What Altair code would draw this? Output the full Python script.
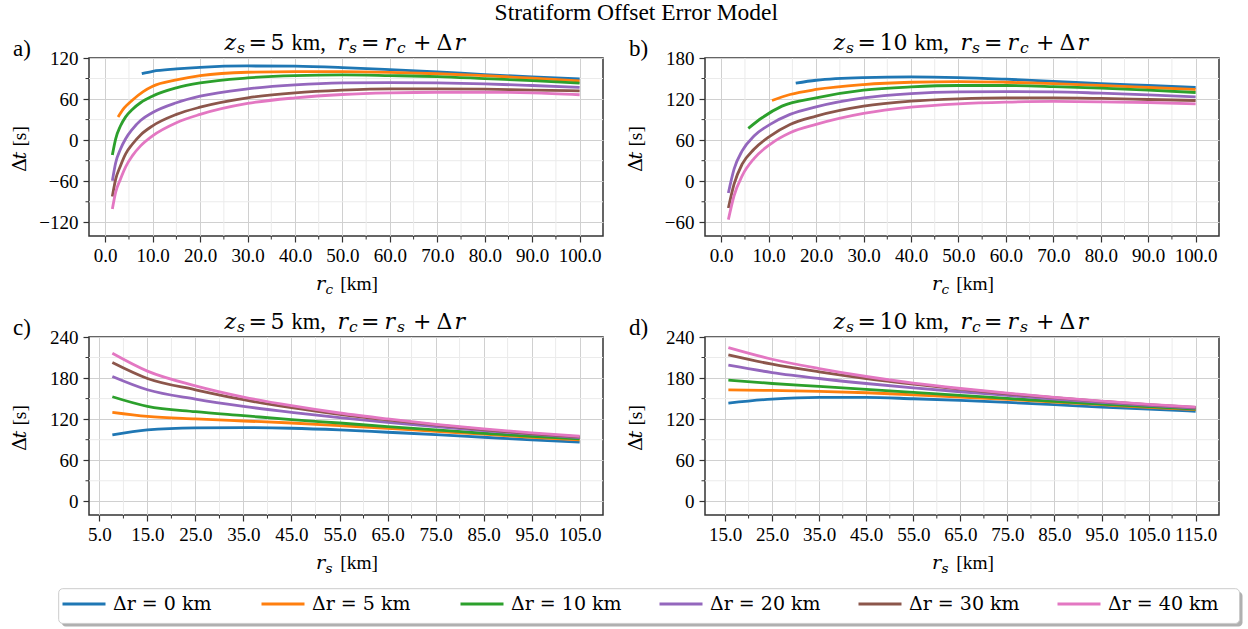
import altair as alt
import pandas as pd

FONT = "Liberation Serif"
MATH = "DejaVu Serif"
COLORS = ["#1f77b4", "#ff7f0e", "#2ca02c", "#9467bd", "#8c564b", "#e377c2"]
SERIES = ["\u0394r = 0 km", "\u0394r = 5 km", "\u0394r = 10 km",
          "\u0394r = 20 km", "\u0394r = 30 km", "\u0394r = 40 km"]

# ---------------- panel a : z_s = 5 km, r_s = r_c + dr  (x = r_c)
a_x_0 = [7.7, 10, 15, 20, 30, 40, 50, 60, 70, 80, 90, 100]
a_y_0 = [97.2, 100.6, 104, 106.4, 108.4, 108, 106, 103, 99.6, 95.8, 92.4, 89.5]
a_x_5 = [2.7, 4, 5.7, 8, 10, 15, 20, 30, 40, 50, 60, 70, 80, 90, 100]
a_y_5 = [33.7, 47, 58.4, 71, 78.8, 88, 94.3, 99.2, 100, 100, 99, 97, 94.3, 90.4, 86.6]
a_x_n = [1.5, 2.2, 3.2, 4.3, 5.7, 7.5, 9.9, 15, 20, 30, 40, 50, 60, 70, 80, 90, 100]
a_y_10 = [-21.6, 2, 20.6, 34, 44.9, 55, 64.2, 76.4, 83.6, 90.9, 94.3, 95.3, 94.3, 92.9, 90, 87, 83.2]
a_y_20 = [-59.4, -33, -13.3, 2, 15.8, 29, 40, 54.6, 64.2, 74.9, 80.7, 83.6, 84.1, 83.6, 82.2, 79.8, 77]
a_y_30 = [-82.2, -57, -37.6, -20, -6, 8, 20.6, 37.6, 48.2, 61.8, 69.1, 73, 74.9, 74.9, 74.4, 73, 72.1]
a_y_40 = [-100.6, -76, -57, -39, -23, -8, 6, 25.5, 37.6, 53.6, 61.8, 66.7, 69.1, 70, 70, 69.1, 66.3]

# ---------------- panel b : z_s = 10 km, r_s = r_c + dr  (x = r_c)
b_x_0 = [15.7, 20, 30, 40, 50, 60, 70, 80, 90, 100]
b_y_0 = [143.2, 147.5, 151.4, 152.4, 151.4, 149, 146, 142.7, 139.8, 136.9]
b_x_5 = [10.7, 14.5, 20, 30, 40, 50, 60, 70, 80, 90, 100]
b_y_5 = [118, 126.7, 134, 141.2, 144.6, 145.6, 144.6, 142.7, 139.8, 136.9, 134]
b_x_10 = [5.7, 8.6, 12.8, 20, 30, 40, 50, 60, 70, 80, 90, 100]
b_y_10 = [77.2, 92.7, 109.7, 121.8, 133, 137.8, 139.8, 139.8, 138.3, 135.9, 133, 129.6]
b_x_n = [1.5, 2.7, 4.4, 6.9, 10.3, 14.5, 20, 30, 40, 50, 60, 70, 80, 90, 100]
b_y_20 = [-17.3, 17.6, 44.3, 66, 83, 97.6, 108.7, 121.8, 128.1, 130.6, 131, 130.6, 128.6, 126.2, 123.3]
b_y_30 = [-39.1, -4.2, 24.9, 46.7, 66, 83, 95.2, 109.7, 117, 120.4, 121.8, 121.8, 120.9, 119.4, 117.9]
b_y_40 = [-56.1, -21.2, 7.9, 33.1, 54, 70.9, 83, 99, 108.2, 113.1, 115.5, 116.5, 116, 115, 113.1]

# ---------------- panel c : z_s = 5 km, r_c = r_s + dr  (x = r_s)
c_x = [7.7, 15, 25, 35, 45, 55, 65, 75, 85, 95, 105]
c_y_0 = [97, 104.3, 107.2, 107.6, 106.7, 104.3, 100.9, 97.5, 93.6, 89.7, 86.3]
c_y_5 = [130, 124.1, 120.3, 117.3, 114.4, 110.6, 106.7, 102.3, 98, 93.6, 89.7]
c_y_10 = [152.7, 138.7, 130.9, 125.1, 119.3, 114.4, 109.1, 104.3, 99.4, 95, 91.2]
c_y_20 = [182.3, 162.9, 149.3, 138.7, 130, 122.2, 115.4, 109.1, 103.3, 98, 93.1]
c_y_30 = [202.7, 179.4, 162.9, 148.4, 136.7, 127, 118.8, 111.5, 104.7, 98.9, 94.1]
c_y_40 = [216.2, 190.1, 168.7, 152.3, 139.6, 129, 120.3, 112.5, 105.7, 99.9, 95]

# ---------------- panel d : z_s = 10 km, r_c = r_s + dr  (x = r_s)
d_x = [15.7, 25, 35, 45, 55, 65, 75, 85, 95, 105, 115]
d_y_0 = [143.5, 149.3, 151.8, 151.8, 149.8, 147.4, 144.5, 141.1, 137.7, 134.8, 131.4]
d_y_5 = [162.9, 161.9, 160.5, 158.6, 155.6, 152.3, 148.9, 145, 141.1, 137.2, 133.8]
d_y_10 = [177, 172.1, 167.8, 163.4, 159, 154.7, 150.3, 146, 142.1, 138.2, 134.8]
d_y_20 = [198.8, 188.1, 179.4, 172.1, 165.8, 160, 154.7, 149.3, 144.5, 140.1, 136.3]
d_y_30 = [213.8, 200.2, 189.1, 179.4, 171.2, 163.9, 157.1, 151.3, 146, 141.1, 137.2]
d_y_40 = [224.5, 207.5, 193.9, 182.3, 172.6, 164.8, 158, 151.8, 146.4, 141.6, 137.7]

# axis ticks
ab_x_major = [0, 10, 20, 30, 40, 50, 60, 70, 80, 90, 100]
ab_x_minor = [5, 15, 25, 35, 45, 55, 65, 75, 85, 95]
c_x_major = [5, 15, 25, 35, 45, 55, 65, 75, 85, 95, 105]
c_x_minor = [10, 20, 30, 40, 50, 60, 70, 80, 90, 100]
d_x_major = [15, 25, 35, 45, 55, 65, 75, 85, 95, 105, 115]
d_x_minor = [20, 30, 40, 50, 60, 70, 80, 90, 100, 110]
a_y_major = [-120, -60, 0, 60, 120]
a_y_minor = [-90, -30, 30, 90]
b_y_major = [-60, 0, 60, 120, 180]
b_y_minor = [-30, 30, 90, 150]
cd_y_major = [0, 60, 120, 180, 240]
cd_y_minor = [30, 90, 150, 210]

W, H = 514, 178
ONE = pd.DataFrame({"k": [0]})
MAJOR_GRID = "#d0d0d0"
MINOR_GRID = "#ebebeb"
TICK = "#333333"


def frame(xs_list, ys_list):
    rows = []
    for name, xs, ys in zip(SERIES, xs_list, ys_list):
        for x, y in zip(xs, ys):
            rows.append({"x": x, "y": y, "s": name})
    return pd.DataFrame(rows)


def txt(s, x, y, size, italic=False, angle=None, align="left", baseline="alphabetic", font=FONT):
    kw = dict(text=s, font=font, fontSize=size, align=align, baseline=baseline, color="black")
    if italic:
        kw["fontStyle"] = "italic"
    if angle is not None:
        kw["angle"] = angle
    return alt.Chart(ONE).mark_text(**kw).encode(x=alt.value(x), y=alt.value(y))


LEGEND = alt.Legend(orient="none", legendX=-28, legendY=523, direction="horizontal", columns=6,
                    title=None, symbolType="stroke", symbolSize=1849, symbolStrokeWidth=3,
                    labelFont=MATH, labelFontSize=19, labelColor="black", labelOffset=6,
                    columnPadding=31, gridAlign="all", padding=0, labelLimit=400)


def title_segments(segs, total):
    start = W / 2 - total / 2
    out = []
    for off, s, kind in segs:
        if kind == "s":
            out.append(txt(s, start + off, -4.7, 15.4, italic=True, font=MATH))
        elif kind == "i":
            out.append(txt(s, start + off, -8, 22, italic=True, font=MATH))
        elif kind == "m":
            out.append(txt(s, start + off, -8, 22, font=MATH))
        else:
            out.append(txt(s, start + off, -8, 22.5, font=FONT))
    return out


def panel(df, xdom, ydom, xmaj, xmin, ymaj, ymin, label, segs, total, xsub, extra=()):
    xs = alt.Scale(domain=xdom, nice=False, zero=False)
    ys = alt.Scale(domain=ydom, nice=False, zero=False)
    common = dict(title=None, labelFont=FONT, labelFontSize=19, labelColor="black", grid=True,
                  gridColor=MAJOR_GRID, gridWidth=1, domain=False, ticks=True, tickSize=6,
                  tickColor=TICK, tickWidth=1.2, labelFlush=False, labelOverlap=False)
    ax = alt.Axis(values=xmaj, format=".1f", labelPadding=4, **common)
    ay = alt.Axis(values=ymaj, format="d", labelPadding=5, **common)
    gx = alt.Chart(pd.DataFrame({"x": xmin})).mark_rule(color=MINOR_GRID, strokeWidth=1).encode(
        x=alt.X("x:Q", scale=xs, axis=ax))
    gy = alt.Chart(pd.DataFrame({"y": ymin})).mark_rule(color=MINOR_GRID, strokeWidth=1).encode(
        y=alt.Y("y:Q", scale=ys, axis=ay))
    lines = alt.Chart(df).mark_line(strokeWidth=2.8, interpolate="monotone").encode(
        x=alt.X("x:Q", scale=xs, axis=ax),
        y=alt.Y("y:Q", scale=ys, axis=ay),
        color=alt.Color("s:N", scale=alt.Scale(domain=SERIES, range=COLORS), legend=LEGEND),
    )
    tx = alt.Chart(pd.DataFrame({"x": xmin})).mark_rule(color=TICK, strokeWidth=1).encode(
        x=alt.X("x:Q", scale=xs, axis=ax), y=alt.value(H), y2=alt.value(H + 3.5))
    ty = alt.Chart(pd.DataFrame({"y": ymin})).mark_rule(color=TICK, strokeWidth=1).encode(
        y=alt.Y("y:Q", scale=ys, axis=ay), x=alt.value(0), x2=alt.value(-3.5))
    texts = [txt(label, -76, -2, 23)]
    texts += title_segments(segs, total)
    cx = W / 2
    texts += [txt("r", cx - 30, H + 54, 19.4, italic=True, font=MATH),
              txt(xsub, cx - 20.5, H + 57.5, 13.6, italic=True, font=MATH),
              txt("[km]", cx - 5.7, H + 54, 19.4)]
    texts += [txt("\u0394", -63, 114, 19.4, angle=270, font=MATH),
              txt("t", -63, 101.5, 19.4, italic=True, angle=270, font=MATH),
              txt("[s]", -63, 88.6, 19.4, angle=270)]
    return alt.layer(*extra, gx, gy, lines, tx, ty, *texts).properties(width=W, height=H)


TITLE_5 = [(0, "z", "i"), (12.5, "s", "s"), (24, "=", "m"), (46, "5", "m"), (67, "km,", "t"),
           (113, "r", "i"), (124.5, "s", "s"), (136.5, "=", "m"), (160, "r", "i"), (172.5, "c", "s"),
           (188.5, "+", "m"), (212, "\u0394", "m"), (230, "r", "i")]
TITLE_10 = [(0, "z", "i"), (12.5, "s", "s"), (24, "=", "m"), (46, "10", "m"), (81, "km,", "t"),
            (127, "r", "i"), (138.5, "s", "s"), (150.5, "=", "m"), (174, "r", "i"), (186.5, "c", "s"),
            (202.5, "+", "m"), (226, "\u0394", "m"), (244, "r", "i")]


def swap_sub(segs):
    out = []
    for i, (o, t, k) in enumerate(segs):
        if k == "s" and i == 6:
            t = "c"
        elif k == "s" and i == 9:
            t = "s"
        out.append((o, t, k))
    return out


TITLE_5C = swap_sub(TITLE_5)
TITLE_10C = swap_sub(TITLE_10)

df_a = frame([a_x_0, a_x_5, a_x_n, a_x_n, a_x_n, a_x_n], [a_y_0, a_y_5, a_y_10, a_y_20, a_y_30, a_y_40])
df_b = frame([b_x_0, b_x_5, b_x_10, b_x_n, b_x_n, b_x_n], [b_y_0, b_y_5, b_y_10, b_y_20, b_y_30, b_y_40])
df_c = frame([c_x] * 6, [c_y_0, c_y_5, c_y_10, c_y_20, c_y_30, c_y_40])
df_d = frame([d_x] * 6, [d_y_0, d_y_5, d_y_10, d_y_20, d_y_30, d_y_40])

suptitle = txt("Stratiform Offset Error Model", 547.3, -38, 23.5, align="center")

# legend frame + shadow (drawn under the legend, positioned relative to panel c)
shadow = alt.Chart(ONE).mark_rect(color="#b0b0b0", cornerRadius=4).encode(
    x=alt.value(-27.3), x2=alt.value(1153.5), y=alt.value(254.7), y2=alt.value(289.4))
box = alt.Chart(ONE).mark_rect(fill="white", stroke="#cccccc", strokeWidth=1, cornerRadius=4).encode(
    x=alt.value(-30.3), x2=alt.value(1150.5), y=alt.value(251.7), y2=alt.value(286.4))

pa = panel(df_a, [-3.425, 104.925], [-140, 120], ab_x_major, ab_x_minor, a_y_major, a_y_minor,
           "a)", TITLE_5, 243, "c", extra=(suptitle,))
pb = panel(df_b, [-3.425, 104.925], [-80, 180], ab_x_major, ab_x_minor, b_y_major, b_y_minor,
           "b)", TITLE_10, 257, "c")
pc = panel(df_c, [2.835, 109.865], [-20, 240], c_x_major, c_x_minor, cd_y_major, cd_y_minor,
           "c)", TITLE_5C, 243, "s", extra=(shadow, box))
pd_ = panel(df_d, [10.735, 119.965], [-20, 240], d_x_major, d_x_minor, cd_y_major, cd_y_minor,
            "d)", TITLE_10C, 257, "s")

chart = alt.concat(pa, pb, pc, pd_, columns=2, spacing={"row": 101, "column": 102}, bounds="flush").properties(
    padding={"left": 9, "top": 0, "right": 0, "bottom": 0}, background="white"
).resolve_scale(color="shared").configure_view(
    stroke="#333333", strokeWidth=1.5
)

chart.save("out.html", embed_options={"renderer": "svg", "actions": False})
